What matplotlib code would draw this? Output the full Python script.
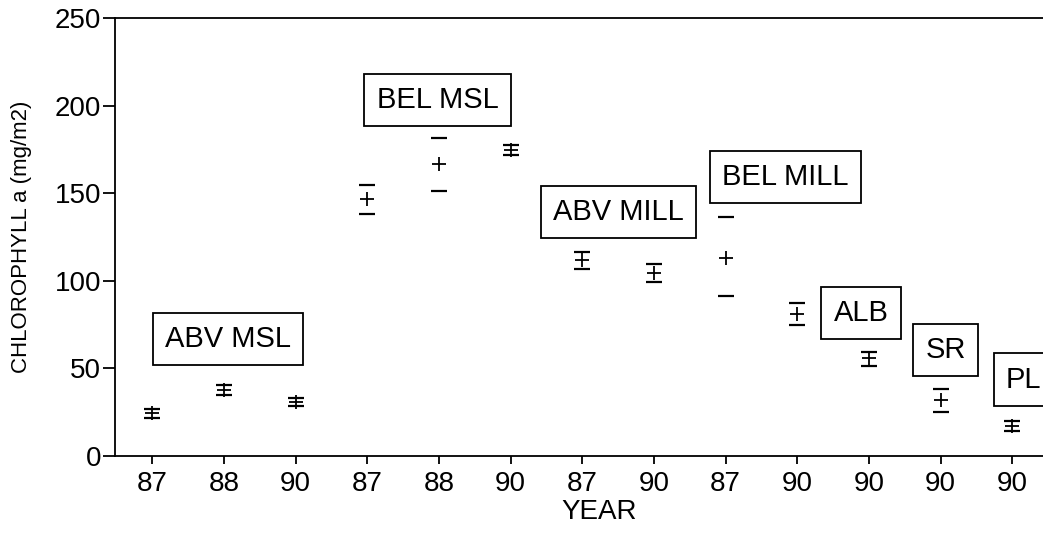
import matplotlib
matplotlib.use("Agg")
import matplotlib.pyplot as plt
import numpy as np

plt.rcParams["font.family"] = ["Liberation Sans", "DejaVu Sans"]

# data (chlorophyll a, mg/m2)
years = ["87", "88", "90", "87", "88", "90", "87", "90", "87", "90", "90", "90", "90"]
means = [24.7, 37.6, 31.0, 146.9, 166.7, 174.9, 111.7, 104.3, 113.1, 80.8, 55.8, 31.7, 17.1]
upper = [26.6, 40.8, 33.2, 154.9, 181.3, 177.7, 116.6, 109.6, 136.6, 87.5, 59.4, 38.0, 20.0]
lower = [21.5, 34.8, 28.7, 138.3, 151.3, 171.9, 106.6, 99.6, 91.6, 74.8, 51.1, 25.1, 14.2]

site_labels = ["ABV MSL", "BEL MSL", "ABV MILL", "BEL MILL", "ALB", "SR", "PL"]
# label box centres (x in category index, y in data units)
label_x = [1.06, 3.98, 6.50, 8.83, 9.89, 11.07, 12.16]
label_y = [66.7, 203.1, 139.3, 159.2, 81.7, 60.4, 43.6]

x = np.arange(len(years))

fig = plt.figure(figsize=(10.43, 5.53), dpi=100)
W, H = 1043, 553
left_px, right_px = 115, 1084
bottom_px, top_px = 456, 18
ax = fig.add_axes([left_px / W, 1 - bottom_px / H,
                   (right_px - left_px) / W, (bottom_px - top_px) / H])

ax.plot(x, means, ls="none", marker="+", ms=10, mew=1.3, color="black")
ax.plot(x, upper, ls="none", marker="_", ms=12, mew=1.6, color="black")
ax.plot(x, lower, ls="none", marker="_", ms=12, mew=1.6, color="black")

for lab, lx, ly in zip(site_labels, label_x, label_y):
    ax.text(lx, ly, lab, fontsize=21, ha="center", va="center", clip_on=False,
            bbox=dict(boxstyle="square,pad=0.42", fc="white", ec="black", lw=1.3))

ax.set_xlim(-0.52, 13.0)
ax.set_ylim(0, 250)
ax.set_xticks(x)
ax.set_xticklabels(years, fontsize=20)
ax.set_yticks([0, 50, 100, 150, 200, 250])
ax.tick_params(axis="y", labelsize=20, length=9, width=1.3, direction="out", pad=1)
ax.tick_params(axis="x", length=6, width=1.3, direction="out", pad=5)
for s in ax.spines.values():
    s.set_linewidth(1.3)

ax.set_xlabel("YEAR", fontsize=20, labelpad=1)
ax.set_ylabel("CHLOROPHYLL a (mg/m2)", fontsize=16, labelpad=16)

fig.savefig("out.png", dpi=100)
